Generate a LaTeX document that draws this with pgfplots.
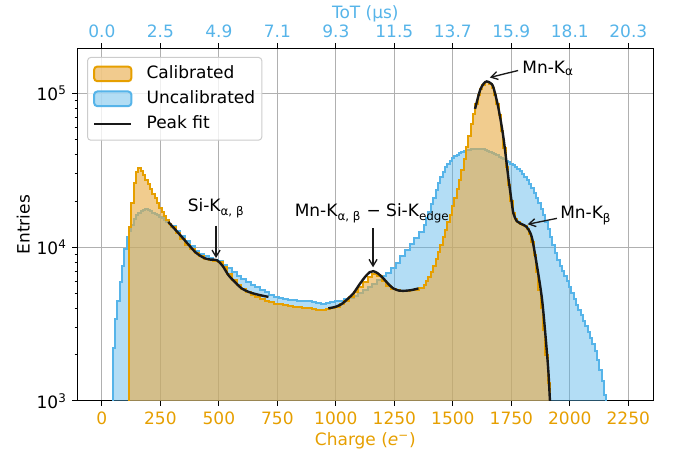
\documentclass[border=0pt]{standalone}
\usepackage{fontspec}
\setmainfont{DejaVu Sans}
\usepackage{pgfplots}
\pgfplotsset{compat=1.18}
\usetikzlibrary{arrows.meta}

\definecolor{calib}{HTML}{E69F00}
\definecolor{calibfill}{HTML}{E8AA43}
\definecolor{uncal}{HTML}{56B4E9}
\definecolor{gridgray}{HTML}{B0B0B0}
\definecolor{legedge}{HTML}{CCCCCC}

\begin{document}
\fontsize{12.75}{15}\selectfont
\begin{tikzpicture}
\begin{axis}[name=main,
  scale only axis, width=432pt, height=264.5pt,
  xmin=-105, xmax=2357,
  ymode=log, ymin=1000, ymax=196800,
  tick align=outside,
  major tick length=3.65pt, minor tick length=2.1pt,
  tick style={black, line width=0.83pt},
  minor tick style={black, line width=0.62pt},
  axis line style={black, line width=0.83pt},
  xtick={0,250,...,2250},
  xtick pos=left, ytick pos=left,
  xticklabels={0,250,500,750,1000,1250,1500,1750,2000,2250},
  xticklabel style={text=calib},
  ytick={1000,10000,100000},
  yticklabels={10\textsuperscript{3},10\textsuperscript{4},10\textsuperscript{5}},
  minor ytick={2000,3000,4000,5000,6000,7000,8000,9000,20000,30000,40000,50000,60000,70000,80000,90000},
  grid=major, major grid style={gridgray, line width=0.83pt},
  xlabel={Charge (\textit{e}\textsuperscript{−})},
  xlabel style={text=calib, at={(axis description cs:0.5,-0.1134)}, anchor=center},
  ylabel={Entries},
  ylabel style={at={(axis description cs:-0.094,0.5)}, anchor=center},
  legend style={at={(axis description cs:0,1)}, anchor=north west,
    xshift=7.3pt, yshift=-6.5pt, draw=legedge, line width=0.75pt,
    rounded corners=2.5pt, fill=white, fill opacity=0.8, text opacity=1,
    inner xsep=4pt, inner ysep=3pt, row sep=0pt,
    nodes={inner xsep=1pt, inner ysep=3.2pt, text height=9.8pt, text depth=2.5pt},
    /tikz/every odd column/.append style={column sep=9.5pt}},
  legend cell align=left,
]

% Uncalibrated histogram (bin edges, counts)
\addplot[forget plot, const plot, fill=uncal, fill opacity=0.45, draw=uncal, line width=1.5pt]
coordinates {
(46,100) (46,2200) (56,3400) (66,4500) (76,5900) (86,7600) (96,9800) (106,11600)
(116,12800) (126,14000) (136,15200) (146,16100) (156,16800) (166,17300) (176,17500)
(186,17600) (196,17400) (206,17100) (216,16800) (226,16500) (236,16200) (246,15800)
(256,15400) (266,15000) (276,14500) (286,14100)
(296,13700) (316,12800) (336,11900) (356,11000) (376,10200) (396,9500) (416,9000)
(436,8700) (456,8500) (476,8300) (496,8100) (516,7700) (536,7300) (556,6900) (576,6500)
(596,6200) (616,5900) (636,5700) (656,5500) (676,5300) (696,5100) (716,4900) (736,4750)
(756,4650) (776,4600) (796,4550) (816,4550) (836,4500) (856,4500) (876,4450) (896,4400)
(916,4350) (936,4300) (956,4350) (976,4400) (996,4450) (1016,4500) (1036,4600)
(1056,4700) (1076,4800) (1096,5000) (1116,5250) (1136,5500) (1156,5800) (1176,6100)
(1196,6450) (1216,6800) (1236,7300) (1256,7900) (1276,8700) (1296,9600) (1316,10500)
(1336,11500) (1356,12600)
(1376,14000) (1386,15500) (1396,17000) (1406,19000) (1416,21000) (1426,23500)
(1436,26000) (1446,28500) (1456,31000) (1466,33000) (1476,35000) (1486,36500)
(1496,37800) (1506,39000) (1516,40000) (1526,40800) (1536,41500) (1546,42100)
(1556,42600) (1566,43000) (1576,43400) (1586,43700) (1596,43800) (1606,43800)
(1616,43600) (1626,43300) (1636,42900) (1646,42400) (1656,41800) (1666,41100)
(1676,40300) (1686,39500) (1696,38800) (1706,38000) (1716,37300) (1726,36500)
(1736,35800) (1746,35000) (1756,34200) (1766,33300) (1776,32300) (1786,31200)
(1796,30000) (1806,28700) (1816,27300) (1826,25800) (1836,24200) (1846,22600)
(1856,21000) (1866,19400) (1876,17800) (1886,16200) (1896,14600) (1906,13100)
(1916,11600) (1926,10300) (1936,9200) (1946,8300) (1956,7600) (1966,7000) (1976,6500)
(1986,6000) (1996,5500) (2006,5000) (2016,4600) (2026,4200) (2036,3900) (2046,3600)
(2056,3300) (2066,3050) (2076,2800) (2086,2550) (2096,2350) (2106,2100) (2116,1850)
(2126,1600) (2136,1350) (2146,1100) (2156,1100) (2156,100)
} -- cycle;

% Calibrated histogram
\addplot[forget plot, const plot, fill=calibfill, fill opacity=0.6, draw=calib, line width=1.5pt]
coordinates {
(116,100) (116,13500) (126,19500) (136,26000) (146,31000) (156,32500) (166,31500)
(176,29500) (186,27500) (196,25800) (206,24000) (216,22300) (226,20800) (236,19300)
(246,18000) (256,16900) (266,15900) (276,15000) (286,14200)
(296,13500) (316,12300) (336,11300) (356,10400) (376,9700) (396,9100) (416,8700)
(436,8400) (456,8250) (476,8150) (496,8000) (516,7400) (536,6700) (556,6100) (576,5700)
(596,5350) (616,5100) (636,4900) (656,4750) (676,4600) (696,4500) (716,4400) (736,4300)
(756,4250) (776,4200) (796,4150) (816,4100) (836,4100) (856,4050) (876,4000) (896,3950)
(916,3900) (936,3900) (956,3950) (976,4000) (996,4100) (1016,4250) (1036,4450)
(1056,4750) (1076,5100) (1096,5500) (1116,5950) (1136,6400) (1156,6700) (1176,6500)
(1196,6000) (1216,5600) (1236,5350) (1256,5250) (1276,5200) (1296,5200) (1316,5250)
(1336,5300) (1356,5400)
(1376,5700) (1386,6000) (1396,6400) (1406,6900) (1416,7600) (1426,8400) (1436,9300)
(1446,10300) (1456,11600) (1466,13000) (1476,14600) (1486,16300) (1496,18500)
(1506,21000) (1516,24000) (1526,27500) (1536,32000) (1546,37500) (1556,45000)
(1566,53000) (1576,63000) (1586,74000) (1596,86000) (1606,97000) (1616,107000)
(1626,114000) (1636,118000) (1646,118000) (1656,115000) (1666,108000) (1676,98000)
(1686,86000) (1696,72000) (1706,57000) (1716,44000) (1726,33000) (1736,25500)
(1746,20000) (1756,16800) (1766,15300) (1776,14600) (1786,14200) (1796,14000)
(1806,13700) (1816,13200) (1826,12200) (1836,10800) (1846,8900) (1856,6900)
(1866,5300) (1876,4000) (1886,2900) (1896,2000) (1906,1300) (1916,1300) (1916,100)
} -- cycle;

% Peak fits
\addplot[forget plot, black!90, line width=1.8pt, smooth, tension=0.5] coordinates {
(284,14600) (310,13200) (341,11700) (370,10400) (398,9330) (420,8800) (441,8460)
(465,8300) (491,8240) (515,7600) (541,6580) (570,5900) (598,5390) (630,5100)
(670,4900) (712,4750)
};
\addplot[forget plot, black!90, line width=1.8pt, smooth, tension=0.5] coordinates {
(968,4000) (1000,4100) (1025,4270) (1050,4600) (1075,5010) (1100,5700) (1125,6410)
(1145,6880) (1160,6980) (1180,6750) (1203,6270) (1225,5750) (1246,5390) (1270,5220)
(1288,5200) (1320,5250) (1353,5390)
};
\addplot[forget plot, black!90, line width=1.8pt, smooth, tension=0.5] coordinates {
(1595,79400) (1616,104500) (1632,116000) (1645,119700) (1660,117000) (1673,110000)
(1694,81500) (1716,52000) (1737,28600) (1750,20500) (1759,16600) (1773,14800)
(1787,14300) (1800,14000) (1816,13500) (1837,11700) (1858,7830) (1880,4750)
(1894,2890) (1908,1590) (1915,1015) (1925,600)
};

% Legend images
\addlegendimage{legend image code/.code={\draw[fill=calibfill, fill opacity=0.6, draw=calib, line width=1.5pt] (0pt,-5.5pt) rectangle (28pt,5.5pt);}}
\addlegendimage{legend image code/.code={\draw[fill=uncal, fill opacity=0.45, draw=uncal, line width=1.5pt] (0pt,-5.5pt) rectangle (28pt,5.5pt);}}
\addlegendimage{legend image code/.code={\draw[black!90, line width=1.8pt] (0pt,0pt) -- (28pt,0pt);}}
\legend{Calibrated, Uncalibrated, Peak fit}

% Annotations
\node[inner sep=0pt] at (axis cs:488,17900) {Si-K\textsubscript{α, β}};
\draw[-{Straight Barb[length=5pt,width=6pt]}, line width=1pt, black!90] (axis cs:488,13800) -- (axis cs:488,8500);
\node[inner sep=0pt] at (axis cs:1155,16600) {Mn-K\textsubscript{α, β} − Si-K\textsubscript{edge}};
\draw[-{Straight Barb[length=5pt,width=6pt]}, line width=1pt, black!90] (axis cs:1159,13300) -- (axis cs:1159,7400);
\node[inner sep=0pt, anchor=west] at (axis cs:1796,145000) {Mn-K\textsubscript{α}};
\draw[-{Straight Barb[length=5pt,width=6pt]}, line width=1pt, black!90] (axis cs:1779,141000) -- (axis cs:1658,127000);
\node[inner sep=0pt, anchor=west] at (axis cs:1958,16100) {Mn-K\textsubscript{β}};
\draw[-{Straight Barb[length=5pt,width=6pt]}, line width=1pt, black!90] (axis cs:1945,15400) -- (axis cs:1820,14100);
\end{axis}

% top axis: time over threshold
\begin{axis}[
  scale only axis, width=432pt, height=264.5pt,
  xmin=-105, xmax=2357,
  ymin=0, ymax=1,
  tick align=outside,
  major tick length=3.65pt,
  tick style={black, line width=0.83pt},
  axis line style={black, line width=0.83pt},
  axis x line*=top, axis y line=none,
  xtick={0,250,...,2250},
  xticklabels={0.0,2.5,4.9,7.1,9.3,11.5,13.7,15.9,18.1,20.3},
  xticklabel style={text=uncal},
  xlabel={ToT (μs)},
  xlabel style={text=uncal, at={(axis description cs:0.5,1.097)}, anchor=center},
]
\end{axis}

\pgfresetboundingbox
\path[use as bounding box] ([xshift=-57.98pt,yshift=-41.25pt]main.south west)
  rectangle ([xshift=18.5pt,yshift=36.2pt]main.north east);
\end{tikzpicture}
\end{document}
